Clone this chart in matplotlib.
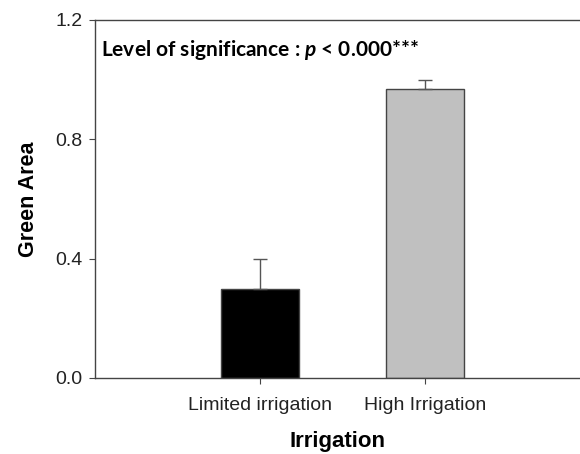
import matplotlib
matplotlib.use("Agg")
import matplotlib.pyplot as plt

categories = ["Limited irrigation", "High Irrigation"]
means = [0.30, 0.97]
errors = [0.10, 0.03]
bar_colors = ["black", "#c0c0c0"]

plt.rcParams['font.family'] = ['Liberation Sans', 'DejaVu Sans']
plt.rcParams['mathtext.fontset'] = 'custom'
plt.rcParams['mathtext.it'] = 'Lato:italic:bold'
plt.rcParams['mathtext.rm'] = 'Lato:bold'

fig = plt.figure(figsize=(5.8, 4.54), dpi=100)
ax = fig.add_axes([95 / 580, 76 / 454, 1 - 95 / 580, 358 / 454])

x = list(range(len(categories)))
ax.bar(x, means, width=0.47, color=bar_colors, edgecolor="#444444", linewidth=1.0,
       yerr=[[0, 0], errors], error_kw=dict(ecolor="#555555", elinewidth=1.0, capsize=5, capthick=1.0),
       zorder=2)

ax.set_xlim(-1.0, 1.94)
ax.set_ylim(0, 1.2)
ax.set_yticks([0.0, 0.4, 0.8, 1.2])
ax.set_yticklabels(["0.0", "0.4", "0.8", "1.2"])
ax.set_xticks(x)
ax.set_xticklabels(categories)

for side in ["left", "bottom", "top"]:
    ax.spines[side].set_color("#444444")
    ax.spines[side].set_linewidth(1.0)
ax.spines["right"].set_visible(False)
ax.tick_params(axis="both", direction="out", length=4, color="#444444", labelsize=14,
               labelcolor="#222222", pad=5)
ax.tick_params(axis="x", pad=10)

ax.set_xlabel("Irrigation", fontsize=16, fontweight="bold", labelpad=12)
ax.set_ylabel("Green Area", fontsize=15.5, fontweight="bold", labelpad=12)

ax.text(0.012, 0.915, "Level of significance : $\\mathit{p}$ < 0.000***", transform=ax.transAxes,
        fontsize=15, fontweight="bold", family=["Lato", "DejaVu Sans"], va="center", ha="left")

fig.savefig("out.png", dpi=100)
